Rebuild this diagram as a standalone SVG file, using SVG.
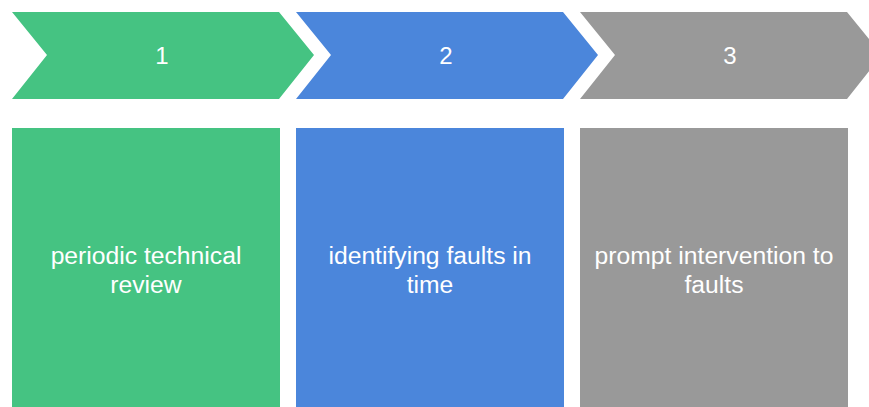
<svg xmlns="http://www.w3.org/2000/svg" width="869" height="407" viewBox="0 0 869 407">
<style>
.t{font-family:"Liberation Sans",Arial,sans-serif;fill:#ffffff;text-anchor:middle}
.n{font-size:24px}
.b{font-size:24.7px}
.g{fill:#45c382}.bl{fill:#4b86db}.gr{fill:#999999}
</style>
<rect width="869" height="407" fill="#ffffff"/>
<g id="step1">
<polygon class="g" points="12,12 279,12 314,55 279,99 12,99 47,55"/>
<text class="t n" x="162" y="64">1</text>
</g>
<g id="step2">
<polygon class="bl" points="296,12 563,12 598,55 563,99 296,99 331,55"/>
<text class="t n" x="446" y="64">2</text>
</g>
<g id="step3">
<polygon class="gr" points="580,12 847,12 882,55 847,99 580,99 615,55"/>
<text class="t n" x="730" y="64">3</text>
</g>
<g id="box1">
<rect class="g" x="12" y="128" width="268" height="279"/>
<text class="t b" x="146" y="264">periodic technical</text>
<text class="t b" x="146" y="293">review</text>
</g>
<g id="box2">
<rect class="bl" x="296" y="128" width="268" height="279"/>
<text class="t b" x="430" y="264">identifying faults in</text>
<text class="t b" x="430" y="293">time</text>
</g>
<g id="box3">
<rect class="gr" x="580" y="128" width="268" height="279"/>
<text class="t b" x="714" y="264">prompt intervention to</text>
<text class="t b" x="714" y="293">faults</text>
</g>
<g id="connectors"></g>
</svg>
